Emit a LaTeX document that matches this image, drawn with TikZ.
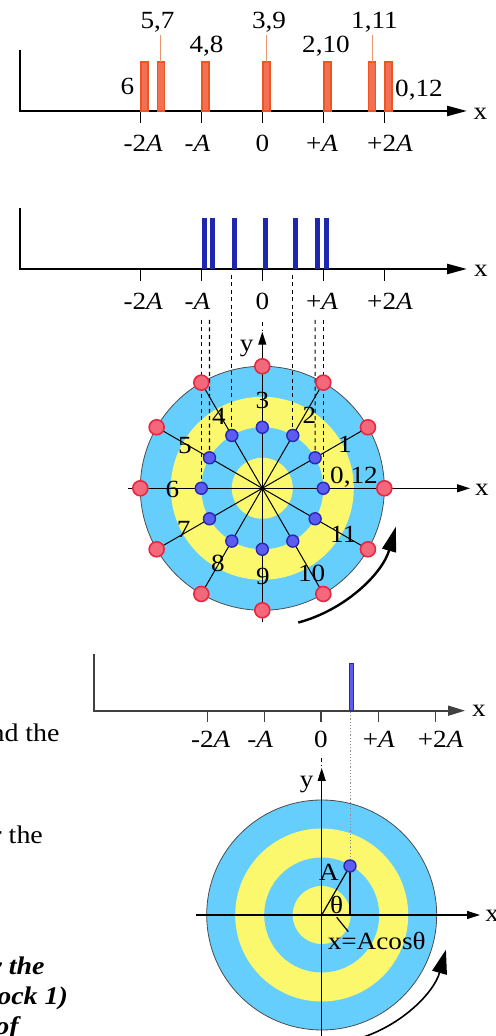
\documentclass[tikz,border=0pt]{standalone}
\usepackage{fontspec}
\setmainfont{Liberation Serif}[FakeStretch=1.1]
\usetikzlibrary{arrows.meta}
\definecolor{lblue}{RGB}{102,206,252}
\definecolor{lyel}{RGB}{252,248,110}
\definecolor{ored}{RGB}{238,85,34}
\definecolor{ofill}{RGB}{242,112,84}
\definecolor{oline}{RGB}{236,150,112}
\definecolor{dblue}{RGB}{30,40,175}
\definecolor{rdraw}{RGB}{232,40,64}
\definecolor{rfill}{RGB}{244,104,124}
\definecolor{bdraw}{RGB}{40,40,180}
\definecolor{bfill}{RGB}{92,92,240}
\begin{document}
\begin{tikzpicture}[x=0.5pt,y=0.5pt,
  lab/.style={font=\fontsize{12.35}{14}\selectfont,inner sep=0pt,anchor=base},
  clab/.style={font=\fontsize{12.35}{14}\selectfont,inner sep=0pt,anchor=center},
  body/.style={font=\fontsize{12.7}{15}\selectfont,inner sep=0pt,anchor=base east},
  bbody/.style={font=\fontsize{12.7}{15}\selectfont\bfseries\itshape,inner sep=0pt,anchor=base east},
  axisA/.style={line width=1.2pt,-{Triangle[length=10pt,width=5pt]}},
  axisB/.style={line width=0.85pt,draw=black!75,-{Triangle[length=8.5pt,width=5pt]}},
  axisC/.style={line width=0.55pt,-{Triangle[length=6.5pt,width=4pt]}},
  tickmark/.style={line width=0.65pt},
  obar/.style={draw=ored,fill=ofill,line width=0.8pt},
  bbar/.style={fill=dblue},
  rdot/.style={circle,inner sep=0pt,minimum size=7.5pt,draw=rdraw,fill=rfill,line width=0.8pt},
  bdot/.style={circle,inner sep=0pt,minimum size=6pt,draw=bdraw,fill=bfill,line width=0.7pt},
  dsh/.style={line width=0.55pt,dash pattern=on 2pt off 1.7pt},
  dotl/.style={line width=0.4pt,black!45,dash pattern=on 0.6pt off 1pt},
  spoke/.style={line width=0.5pt},
  rot/.style={line width=1.2pt,-{Triangle[length=12.5pt,width=7pt]}}]
\useasboundingbox (0,0) rectangle (495,1036);
\clip (0,0) rectangle (495,1036);

% ---------- top distribution (orange) ----------
\coordinate (Ta) at (20,986);
\coordinate (To) at (20,925);
\coordinate (Te) at (467,925);
\draw[axisA] (Ta) -- (To) -- (Te);
\node[lab] (tx) at (480.5,916) {x};
\foreach \x/\dx/\l [count=\i] in {140.7/2.5/{-2\textit{A}},201.5/-4/{-\textit{A}},262.5/0/0,323.5/-1.5/{+\textit{A}},384.5/5.5/{+2\textit{A}}}{
  \draw[tickmark] (\x,925) -- (\x,913);
  \node[lab] (ttl\i) at (\x+\dx,884) {\l};
}
\foreach \k in {0,...,6}{
  \pgfmathsetmacro\bx{266.5+122*cos(30*\k)}
  \draw[obar] (\bx-3.5,925) rectangle (\bx+3.5,974);
}
\foreach \x in {160.8,266.5,372.2}
  \draw[oline,line width=0.5pt] (\x,974) -- (\x,1001);
\node[lab] (l57) at (157.5,1007) {5,7};
\node[lab] (l39) at (269,1007) {3,9};
\node[lab] (l111) at (374.5,1007) {1,11};
\node[lab] (l48) at (206.5,983) {4,8};
\node[lab] (l210) at (326,983) {2,10};
\node[lab] (l6) at (127.5,941) {6};
\node[lab] (l012) at (419,939) {0,12};

% ---------- middle distribution (blue) ----------
\coordinate (Ma) at (20,828);
\coordinate (Mo) at (20,767);
\coordinate (Me) at (467,767);
\draw[axisA] (Ma) -- (Mo) -- (Me);
\node[lab] (mx) at (481,759.3) {x};
\foreach \x/\dx/\l [count=\i] in {140.7/2.5/{-2\textit{A}},201.5/-4/{-\textit{A}},262.5/0/0,323.5/-1.5/{+\textit{A}},384.5/5.5/{+2\textit{A}}}{
  \draw[tickmark] (\x,767) -- (\x,755);
  \node[lab] (mtl\i) at (\x+\dx,726) {\l};
}
\foreach \k in {0,...,6}{
  \pgfmathsetmacro\bx{265+61*cos(30*\k)}
  \fill[bbar] (\bx-2.5,767) rectangle (\bx+2.5,818);
}

% ---------- circle 1 ----------
\begin{scope}[shift={(262.3,547.7)}]
  \coordinate (C1) at (0,0);
  \fill[lblue] (C1) circle[radius=122];
  \draw[black!70,line width=0.4pt] (C1) circle[radius=122];
  \fill[lyel] (C1) circle[radius=91.5];
  \fill[lblue] (C1) circle[radius=61];
  \fill[lyel] (C1) circle[radius=30.5];
  \foreach \k in {0,...,11}{
    \coordinate (R\k) at (30*\k:122);
    \coordinate (B\k) at (30*\k:61);
    \draw[spoke] (C1) -- (R\k);
  }
  \coordinate (Cxl) at (-134,0);
  \coordinate (Cxr) at (207.7,0);
  \coordinate (Cyb) at (0,-134);
  \coordinate (Cyt) at (0,156.6);
  \draw[axisC] (Cxl) -- (Cxr);
  \draw[axisC] (Cyb) -- (Cyt);
  % projection lines
  \coordinate (P6) at (-61,168.3);
  \coordinate (P5) at (-52.8,168.3);
  \coordinate (P4) at (-30.5,213.3);
  \coordinate (P2) at (30.5,213.3);
  \coordinate (P1) at (52.8,168.3);
  \coordinate (P0) at (61,168.3);
  \coordinate (P3) at (0,166);
  \coordinate (P3b) at (0,158.5);
  \foreach \k in {0,1,2,4,5,6} \draw[dsh] (P\k) -- (B\k);
  \draw[dsh] (P3) -- (P3b);
  \foreach \k in {0,...,11}{
    \node[rdot] (r\k) at (R\k) {};
  }
  \foreach \k in {0,...,11}{
    \node[bdot] (b\k) at (B\k) {};
  }
  \node[lab] (cy) at (-15.6,136.3) {y};
  \node[lab] (cx) at (219.7,-7) {x};
  \node[clab] (n3) at (0.2,88) {3};
  \node[clab] (n2) at (47.2,73.3) {2};
  \node[clab] (n1) at (82.7,44.3) {1};
  \node[clab] (n012) at (91.7,11) {0,12};
  \node[clab] (n4) at (-43.5,72.3) {4};
  \node[clab] (n5) at (-77.3,42.8) {5};
  \node[clab] (n6) at (-90,-0.9) {6};
  \node[clab] (n7) at (-78.6,-41.4) {7};
  \node[clab] (n8) at (-44.5,-75.4) {8};
  \node[clab] (n9) at (0.7,-88.4) {9};
  \node[clab] (n10) at (49.4,-84.7) {10};
  \node[clab] (n11) at (81,-45.7) {11};
  \coordinate (A1s) at (-75:139);
  \draw[rot] (A1s) arc[start angle=-75,end angle=-16,radius=139];
\end{scope}

% ---------- bottom distribution ----------
\coordinate (Ba) at (94,382);
\coordinate (Bo) at (94,325.3);
\coordinate (Be) at (465,325.3);
\draw[axisB] (Ba) -- (Bo) -- (Be);
\node[lab] (bx) at (479,319) {x};
\foreach \x/\dx/\l [count=\i] in {207.7/3/{-2\textit{A}},264.3/-4/{-\textit{A}},321/0/0,378.3/0.5/{+\textit{A}},435.7/5/{+2\textit{A}}}{
  \draw[tickmark,black!75] (\x,325.3) -- (\x,314);
  \node[lab] (btl\i) at (\x+\dx,288.3) {\l};
}
\draw[draw=bdraw,fill=bfill,line width=0.5pt] (349.3,325.3) rectangle (353.3,372.7);

% ---------- circle 2 ----------
\begin{scope}[shift={(321.7,121)}]
  \coordinate (C2) at (0,0);
  \fill[lblue] (C2) circle[radius=115];
  \draw[black!70,line width=0.4pt] (C2) circle[radius=115];
  \fill[lyel] (C2) circle[radius=86.5];
  \fill[lblue] (C2) circle[radius=57.5];
  \fill[lyel] (C2) circle[radius=29];
  \coordinate (Dxl) at (-125.7,0);
  \coordinate (Dxr) at (158.3,0);
  \coordinate (Dyb) at (0,-140);
  \coordinate (Dyt) at (0,147);
  \draw[axisC] (Dxl) -- (Dxr);
  \draw[axisC] (Dyb) -- (Dyt);
  \coordinate (D) at (60:56.6);
  \coordinate (F) at (28.3,0);
  \coordinate (Q) at (28.3,203);
  \coordinate (S1) at (0,157);
  \coordinate (S2) at (0,149);
  \draw[dotl] (Q) -- (D);
  \draw[dsh] (S1) -- (S2);
  \draw[line width=0.6pt] (C2) -- (D);
  \draw[line width=0.9pt] (D) -- (F);
  \coordinate (Pa) at (15,-2.3);
  \coordinate (Pb) at (26.6,-16.7);
  \draw[line width=0.6pt] (Pa) -- (Pb);
  \node[bdot] (dot) at (D) {};
  \node[lab] (lA) at (7.3,34.3) {A};
  \node[lab] (lth) at (15,1) {θ};
  \node[lab] (lx) at (55,-35) {x=Acosθ};
  \node[lab] (dy) at (-15,127) {y};
  \node[lab,anchor=base west] (dx) at (163.3,-6.7) {x};
  \coordinate (A2s) at (-75:129);
  \draw[rot,line width=0.8pt,-{Triangle[length=12pt,width=7.5pt]}] (A2s) arc[start angle=-75,end angle=-15.6,radius=129];
\end{scope}

% ---------- cut-off body text at left ----------
\node[body] (t1) at (60,294.3) {and the};
\node[body] (t2) at (43.3,192.7) {for the};
\node[bbody] (t3) at (45,61) {by the};
\node[bbody] (t4) at (68.3,31) {(clock 1)};
\node[bbody] (t5) at (19,2) {of};
\end{tikzpicture}
\end{document}
